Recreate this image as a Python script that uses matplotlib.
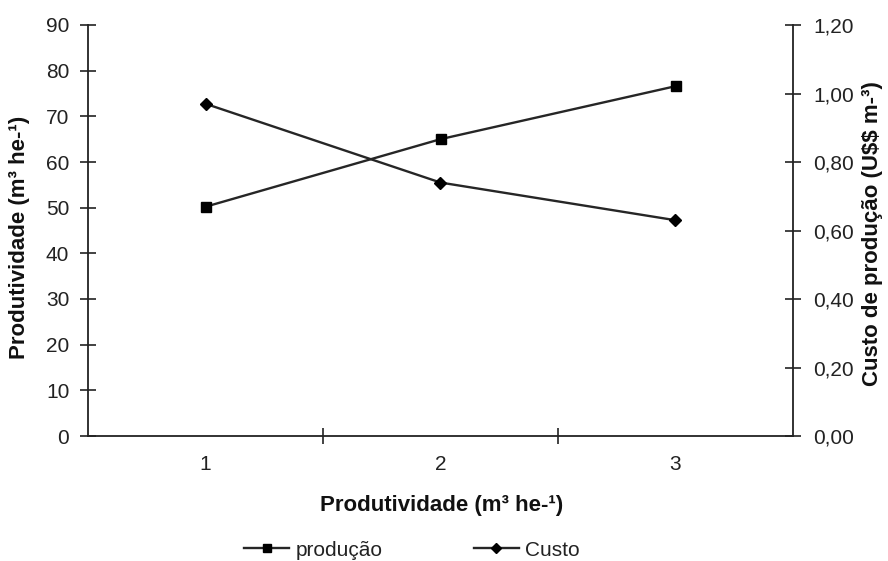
import matplotlib
matplotlib.use("Agg")
import matplotlib.pyplot as plt
from matplotlib.lines import Line2D

categories = ["1", "2", "3"]
producao = [50.2, 65.0, 76.6]
custo = [0.97, 0.74, 0.63]
left_ticks = [0, 10, 20, 30, 40, 50, 60, 70, 80, 90]
right_ticks = [0.0, 0.2, 0.4, 0.6, 0.8, 1.0, 1.2]

plt.rcParams['font.family'] = ['Liberation Sans', 'DejaVu Sans']

fig = plt.figure(figsize=(8.88, 5.61), dpi=100)
ax = fig.add_axes([88/888, 1-436/561, (793-88)/888, (436-25)/561])
ax2 = ax.twinx()

x = list(range(1, len(categories)+1))
ax.plot(x, producao, color='#262626', lw=1.7, marker='s', ms=7, mfc='black', mec='black', zorder=3)
ax2.plot(x, custo, color='#262626', lw=1.7, marker='D', ms=6.5, mfc='black', mec='black', zorder=3)

ax.set_xlim(0.5, 3.5)
ax.set_ylim(0, 90)
ax2.set_ylim(0, 1.2)
ax.set_yticks(left_ticks)
ax.set_yticklabels([str(t) for t in left_ticks])
ax2.set_yticks(right_ticks)
ax2.set_yticklabels([f"{t:.2f}".replace('.', ',') for t in right_ticks])

ax.set_xticks([1.5, 2.5], minor=False)
ax.set_xticklabels([])
ax.set_xticks(x, minor=True)
ax.set_xticklabels(categories, minor=True)
ax.tick_params(axis='x', which='major', direction='inout', length=11, width=1.2, color='#222222')
ax.tick_params(axis='x', which='minor', length=0, pad=14, labelsize=15, labelcolor='#222222')

for a in (ax, ax2):
    a.spines['top'].set_visible(False)
    for s in ('left', 'right', 'bottom'):
        a.spines[s].set_linewidth(1.3)
        a.spines[s].set_color('#222222')
ax.spines['right'].set_visible(False)
ax2.spines['left'].set_visible(False)
ax2.spines['bottom'].set_visible(False)

ax.tick_params(axis='y', direction='inout', length=11, width=1.2, labelsize=15, pad=8,
               color='#222222', labelcolor='#222222')
ax2.tick_params(axis='y', direction='inout', length=11, width=1.2, labelsize=15, pad=9,
                color='#222222', labelcolor='#222222')

fig.text(20/888, 1-237/561, "Produtividade (m³ he-¹)", rotation=90, ha='center', va='center',
         fontsize=16, fontweight='bold', color='#111111')
fig.text(872/888, 1-234/561, r"Custo de produção (U\$\$ m-³)", rotation=90, ha='center', va='center',
         fontsize=16, fontweight='bold', color='#111111')
fig.text(442/888, 1-505/561, "Produtividade (m³ he-¹)", ha='center', va='center',
         fontsize=16, fontweight='bold', color='#111111')

h1 = Line2D([], [], color='#262626', lw=1.7, marker='s', ms=6, mfc='black', mec='black')
h2 = Line2D([], [], color='#262626', lw=1.7, marker='D', ms=5, mfc='black', mec='black')
leg = fig.legend([h1, h2], ["produção", "Custo"], loc='center', bbox_to_anchor=(412/888, 1-550/561),
                 ncol=2, frameon=False, fontsize=15, handlelength=2.15, handletextpad=0.3,
                 columnspacing=4.4)
for t in leg.get_texts():
    t.set_color('#222222')

fig.savefig("out.png", dpi=100)
